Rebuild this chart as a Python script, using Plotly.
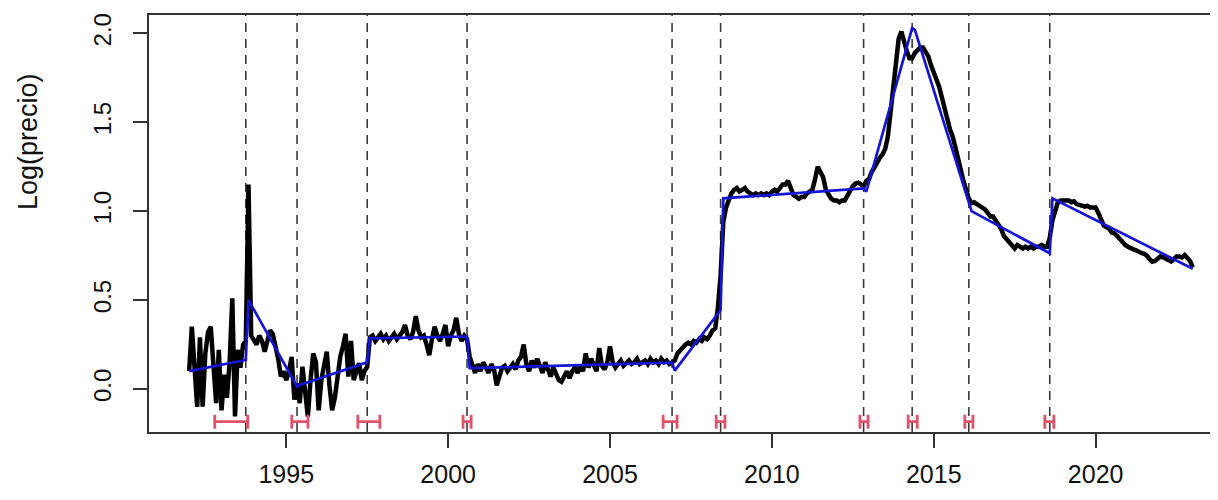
import numpy as np
import plotly.graph_objects as go

# ---------------- data ----------------
start_year = 1992  # monthly series, Jan 1992 .. Jan 2023
log_price = [
    # 1992
    0.10, 0.35, 0.12, -0.10, 0.29, -0.10, 0.20, 0.32, 0.35, 0.10, -0.08, 0.22,
    # 1993
    -0.12, 0.08, -0.05, 0.15, 0.51, -0.155, 0.22, 0.12, 0.25, 0.27, 1.15, 0.30,
    # 1994
    0.28, 0.25, 0.30, 0.27, 0.21, 0.26, 0.33, 0.31, 0.24, 0.17, 0.07, 0.10,
    # 1995
    0.05, 0.10, 0.18, -0.06, 0.03, -0.08, 0.125, 0.00, -0.155, 0.05, 0.20, 0.15,
    # 1996
    -0.12, 0.05, 0.12, 0.21, 0.02, -0.12, -0.05, 0.09, 0.18, 0.24, 0.31, 0.07,
    # 1997
    0.27, 0.05, 0.10, 0.145, 0.05, 0.10, 0.125, 0.29, 0.30, 0.27, 0.29, 0.31,
    # 1998
    0.28, 0.30, 0.27, 0.29, 0.31, 0.28, 0.30, 0.32, 0.36, 0.30, 0.28, 0.32,
    # 1999
    0.41, 0.33, 0.29, 0.30, 0.25, 0.19, 0.28, 0.35, 0.30, 0.27, 0.31, 0.36,
    # 2000
    0.24, 0.30, 0.33, 0.40, 0.31, 0.27, 0.30, 0.28, 0.18, 0.13, 0.09, 0.14,
    # 2001
    0.10, 0.15, 0.12, 0.09, 0.14, 0.11, 0.02, 0.08, 0.12, 0.13, 0.10, 0.12,
    # 2002
    0.14, 0.11, 0.16, 0.18, 0.25, 0.14, 0.10, 0.16, 0.12, 0.17, 0.13, 0.09,
    # 2003
    0.15, 0.11, 0.07, 0.12, 0.08, 0.05, 0.04, 0.07, 0.10, 0.06, 0.10, 0.12,
    # 2004
    0.09, 0.13, 0.10, 0.20, 0.12, 0.17, 0.14, 0.10, 0.23, 0.13, 0.11, 0.15,
    # 2005
    0.24, 0.15, 0.12, 0.14, 0.16, 0.13, 0.15, 0.16, 0.14, 0.15, 0.17, 0.14,
    # 2006
    0.15, 0.16, 0.14, 0.17, 0.15, 0.16, 0.14, 0.17, 0.15, 0.16, 0.14, 0.15,
    # 2007
    0.16, 0.20, 0.22, 0.23, 0.25, 0.26, 0.25, 0.27, 0.26, 0.28, 0.27, 0.29,
    # 2008
    0.28, 0.30, 0.33, 0.34, 0.46, 0.64, 0.94, 1.02, 1.06, 1.10, 1.12, 1.13,
    # 2009
    1.11, 1.12, 1.13, 1.11, 1.10, 1.09, 1.10, 1.09, 1.10, 1.09, 1.10, 1.09,
    # 2010
    1.11, 1.12, 1.11, 1.13, 1.15, 1.15, 1.17, 1.13, 1.09, 1.08, 1.07, 1.08,
    # 2011
    1.08, 1.10, 1.11, 1.12, 1.18, 1.25, 1.22, 1.19, 1.12, 1.09, 1.07, 1.06,
    # 2012
    1.06, 1.05, 1.06, 1.06, 1.09, 1.12, 1.14, 1.155, 1.16, 1.15, 1.14, 1.17,
    # 2013
    1.18, 1.22, 1.25, 1.28, 1.30, 1.32, 1.35, 1.42, 1.55, 1.70, 1.85, 1.97,
    # 2014
    2.01, 1.95, 1.90, 1.86, 1.86, 1.89, 1.91, 1.92, 1.92, 1.90, 1.87, 1.82,
    # 2015
    1.77, 1.74, 1.70, 1.63, 1.57, 1.52, 1.46, 1.42, 1.36, 1.29, 1.23, 1.17,
    # 2016
    1.12, 1.07, 1.045, 1.05, 1.04, 1.03, 1.02, 1.01, 0.99, 0.97, 0.97, 0.95,
    # 2017
    0.93, 0.90, 0.86, 0.84, 0.82, 0.80, 0.79, 0.81, 0.80, 0.79, 0.80, 0.79,
    # 2018
    0.80, 0.79, 0.80, 0.80, 0.81, 0.80, 0.80, 0.85, 0.95, 1.01, 1.05, 1.06,
    # 2019
    1.06, 1.065, 1.06, 1.05, 1.055, 1.04, 1.035, 1.03, 1.025, 1.03, 1.02, 1.02,
    # 2020
    1.02, 0.99, 0.95, 0.92, 0.91, 0.90, 0.88, 0.875, 0.86, 0.84, 0.82, 0.81,
    # 2021
    0.80, 0.79, 0.785, 0.78, 0.77, 0.765, 0.76, 0.75, 0.73, 0.716, 0.72, 0.73,
    # 2022
    0.745, 0.74, 0.73, 0.72, 0.716, 0.73, 0.745, 0.745, 0.74, 0.753, 0.74, 0.72,
    # 2023
    0.684,
]

# breakpoints (last observation of each segment) and their confidence intervals
breakpoints = [1993.75, 1995.3333, 1997.5, 2000.5833, 2006.9167,
               2008.4167, 2012.8333, 2014.3333, 2016.0833, 2018.5833]
ci_low = [1992.79, 1995.17, 1997.21, 2000.46, 2006.64,
          2008.28, 2012.72, 2014.21, 2015.96, 2018.43]
ci_high = [1993.81, 1995.67, 1997.89, 2000.71, 2007.07,
           2008.55, 2012.97, 2014.49, 2016.21, 2018.71]

# fitted piecewise-linear trend: segment start/end times and fitted values
seg_start_t = [1992.0, 1993.8333, 1995.4167, 1997.5833, 2000.6667, 2007.0,
               2008.5, 2012.9167, 2014.4167, 2016.1667, 2018.6667]
seg_end_t = [1993.75, 1995.3333, 1997.5, 2000.5833, 2006.9167, 2008.4167,
             2012.8333, 2014.3333, 2016.0833, 2018.5833, 2023.0]
seg_start_v = [0.10, 0.50, 0.022, 0.285, 0.117, 0.103, 1.072, 1.11, 2.02, 1.00, 1.072]
seg_end_v = [0.163, 0.013, 0.150, 0.295, 0.148, 0.444, 1.128, 2.03, 1.04, 0.763, 0.676]

x_ticks = [1995, 2000, 2005, 2010, 2015, 2020]
y_ticks = [0.0, 0.5, 1.0, 1.5, 2.0]
y_tick_text = ["0.0", "0.5", "1.0", "1.5", "2.0"]

# ---------------- figure ----------------
years = start_year + np.arange(len(log_price)) / 12.0

fit_x, fit_y = [], []
for a, b, va, vb in zip(seg_start_t, seg_end_t, seg_start_v, seg_end_v):
    fit_x += [a, b]
    fit_y += [va, vb]

FONT = "Liberation Sans, Arial, Helvetica, sans-serif"
AX = "#333333"
RED = "#DF536B"

# the page adds an 8px body margin; plot area should land at x 149..1218, y 15..432
PAGE_OFF = 8
W, H = 1218, 500
L, T = 149 - PAGE_OFF, 15 - PAGE_OFF
R = PAGE_OFF
B = H - (432 - PAGE_OFF)
PW, PH = W - L - R, H - T - B

fig = go.Figure()

fig.add_trace(go.Scatter(x=years, y=log_price, mode="lines",
                         line=dict(color="black", width=4.5),
                         showlegend=False, hoverinfo="skip"))
fig.add_trace(go.Scatter(x=fit_x, y=fit_y, mode="lines",
                         line=dict(color="#1414d6", width=2.7),
                         showlegend=False, hoverinfo="skip"))

ci_level = -0.184
fig.add_trace(go.Scatter(
    x=breakpoints, y=[ci_level] * len(breakpoints), mode="markers",
    marker=dict(size=1, color="rgba(0,0,0,0)"),
    error_x=dict(type="data", symmetric=False,
                 array=[h - b for h, b in zip(ci_high, breakpoints)],
                 arrayminus=[b - l for b, l in zip(breakpoints, ci_low)],
                 color=RED, thickness=2.8, width=7),
    showlegend=False, hoverinfo="skip"))

shapes = [dict(type="line", xref="x", yref="paper", x0=b, x1=b, y0=0, y1=1,
               line=dict(color="#3a3a3a", width=1.6, dash="9px,7px"),
               layer="below") for b in breakpoints]

fig.update_layout(
    width=W, height=H,
    margin=dict(l=L, r=R, t=T, b=B, autoexpand=False),
    paper_bgcolor="white", plot_bgcolor="white",
    font=dict(family=FONT, color="#111111"),
    shapes=shapes,
    annotations=[dict(text="Log(precio)", xref="paper", yref="paper",
                      x=(28 - 149) / PW, y=(432 - 142) / PH,
                      xanchor="center", yanchor="middle", textangle=-90,
                      showarrow=False, font=dict(size=27, family=FONT, color="#111111"))],
    xaxis=dict(range=[1990.76, 2023.78], tickvals=x_ticks,
               ticks="outside", ticklen=14, tickwidth=1.5, tickcolor=AX,
               showline=True, linecolor=AX, linewidth=1.6, mirror=True,
               showgrid=False, zeroline=False, automargin=False,
               tickfont=dict(size=25, family=FONT, color="#111111"),
               ticklabelstandoff=5),
    yaxis=dict(range=[-0.242, 2.103], tickvals=y_ticks, ticktext=y_tick_text,
               tickangle=-90,
               ticks="outside", ticklen=14, tickwidth=1.5, tickcolor=AX,
               showline=True, linecolor=AX, linewidth=1.6, mirror=False,
               showgrid=False, zeroline=False, automargin=False,
               tickfont=dict(size=24, family=FONT, color="#111111"),
               ticklabelstandoff=13),
)

fig.write_html("out.html")
